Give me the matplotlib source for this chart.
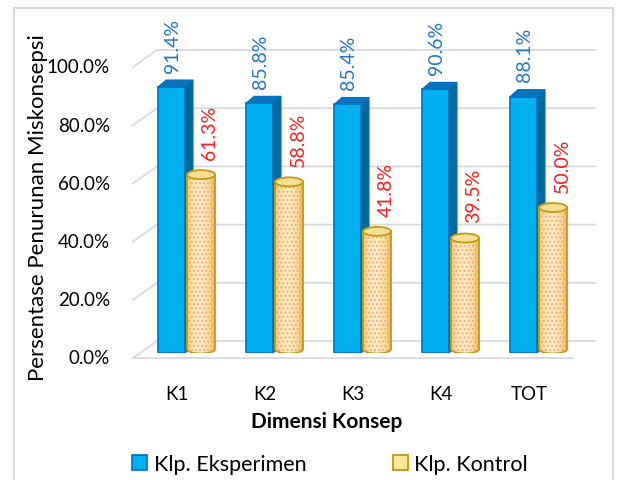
import numpy as np
import matplotlib.pyplot as plt
from matplotlib import patches
from matplotlib.path import Path
from matplotlib.colors import LinearSegmentedColormap

# data
categories = ["K1", "K2", "K3", "K4", "TOT"]
eksperimen = [91.4, 85.8, 85.4, 90.6, 88.1]
kontrol = [61.3, 58.8, 41.8, 39.5, 50.0]
yticks = [0, 20, 40, 60, 80, 100]

plt.rcParams["font.family"] = ["Lato", "DejaVu Sans"]
plt.rcParams["hatch.linewidth"] = 1.0

W, H = 617, 481
fig = plt.figure(figsize=(W / 100, H / 100), dpi=100)

# plot area in pixels (front face scale)
left, right, bottom, top = 133, 595, 354, 63
ax = fig.add_axes([left / W, 1 - bottom / H, (right - left) / W, (bottom - top) / H])
ax.set_xlim(-0.5, 4.75)
ax.set_ylim(0, 100)
for s in ax.spines.values():
    s.set_visible(False)
ax.set_yticks([])

ppx = (right - left) / 5.25   # pixels per category unit
ppy = (bottom - top) / 100.0  # pixels per percent

# 3D-style gridlines (left wall diagonal + back wall)
grid_c = "#D6DAE0"
back_x = -0.5 + 24 / ppx
for v in yticks:
    ax.plot([-0.5, back_x, 4.75], [v - 5 / ppy, v + 12 / ppy, v + 12 / ppy],
            color=grid_c, lw=1.3, clip_on=False, zorder=1)
    ax.text(-0.5 - 23 / ppx, v - 5 / ppy, f"{v:.1f}%", ha="right", va="center",
            fontsize=13.5, color="#000000")
ax.plot([-0.5, 4.5], [-5 / ppy, -5 / ppy], color=grid_c, lw=1.3, clip_on=False, zorder=1)

# blue 3D columns
bw, bdx, bdy = 27 / ppx, 8 / ppx, 7 / ppy
for i, v in enumerate(eksperimen):
    x0 = i - 19 / ppx
    side = patches.Polygon([(x0 + bw, 0), (x0 + bw + bdx, bdy), (x0 + bw + bdx, v + bdy), (x0 + bw, v)],
                           closed=True, facecolor="#006A9F", edgecolor="#0070C0", lw=0.8, zorder=3)
    topf = patches.Polygon([(x0, v), (x0 + bw, v), (x0 + bw + bdx, v + bdy), (x0 + bdx, v + bdy)],
                           closed=True, facecolor="#0A73BC", edgecolor="#0070C0", lw=0.8, zorder=3)
    front = patches.Rectangle((x0, 0), bw, v, facecolor="#00B0F0", edgecolor="#0070C0", lw=1.2, zorder=4)
    for p in (side, topf, front):
        ax.add_patch(p)
    ax.annotate(f"{v:.1f}%", xy=(x0 + (bw + bdx) / 2 - 3 / ppx, v + bdy), xytext=(0, 6),
                textcoords="offset points", rotation=90, ha="center", va="bottom",
                fontsize=14, color="#2176C7")

# yellow cylinders
cw, eh, base = 28 / ppx, 9 / ppy, 4 / ppy
cmap = LinearSegmentedColormap.from_list("cyl", ["#EECB70", "#FFEBAE", "#FFF0BE", "#FBE29A", "#E8C15E"])
grad = np.linspace(0, 1, 64).reshape(1, -1)
t = np.linspace(0, np.pi, 40)
for i, v in enumerate(kontrol):
    xl = i + 10 / ppx
    xr = xl + cw
    xc = (xl + xr) / 2
    arc = [(xc + cw / 2 * np.cos(a), base - eh / 2 * np.sin(a)) for a in t]
    verts = [(xl, v)] + [(xr, v)] + arc + [(xl, v)]
    body = Path(verts, closed=True)
    clip = patches.PathPatch(body, facecolor="none", edgecolor="none")
    ax.add_patch(clip)
    im = ax.imshow(grad, extent=[xl, xr, base - eh / 2, v], aspect="auto", cmap=cmap,
                   zorder=3, interpolation="bilinear")
    im.set_clip_path(clip)
    ax.add_patch(patches.PathPatch(body, facecolor="none", edgecolor="#F3A49A", hatch="....",
                                   lw=0, zorder=3.5))
    ax.add_patch(patches.PathPatch(body, facecolor="none", edgecolor="#C49A14", lw=1.3, zorder=4))
    ax.add_patch(patches.Ellipse((xc, v), cw, eh, facecolor="#F7DE95", edgecolor="#C49A14",
                                 lw=1.3, zorder=5))
    ax.annotate(f"{v:.1f}%", xy=(xc + 9 / ppx, v + eh / 2), xytext=(0, 8),
                textcoords="offset points", rotation=90, ha="center", va="bottom",
                fontsize=14, color="#FF1A1A")

ax.set_xlim(-0.5, 4.75)
ax.set_ylim(0, 100)
ax.set_xticks(range(len(categories)), categories)
ax.tick_params(axis="x", length=0, pad=23, labelsize=13.5)
ax.text((327 - left) / (right - left), (bottom - 422) / (bottom - top), "Dimensi Konsep",
        transform=ax.transAxes, ha="center", va="center", fontsize=15, fontweight="bold")

fig.text(38 / W, 1 - 208 / H, "Persentase Penurunan Miskonsepsi", rotation=90,
         ha="center", va="center", fontsize=16)

handles = [patches.Patch(facecolor="#00B0F0", edgecolor="#0070C0", lw=1.2),
           patches.Patch(facecolor="#FFE699", edgecolor="#BF9000", lw=1.2)]
fig.legend(handles, ["Klp. Eksperimen", "Klp. Kontrol"], loc="center",
           bbox_to_anchor=(330 / W, 1 - 465 / H), ncol=2, frameon=False, fontsize=15.5,
           handlelength=0.7, handleheight=0.7, handletextpad=0.3, columnspacing=4.0)

# outer border
fig.patches.append(patches.Rectangle((14 / W, -0.05), (613 - 14) / W, 1.05 - 9 / H,
                                     transform=fig.transFigure, fill=False,
                                     edgecolor="#D9D9D9", lw=1.5))

fig.savefig("out.png", dpi=100)
